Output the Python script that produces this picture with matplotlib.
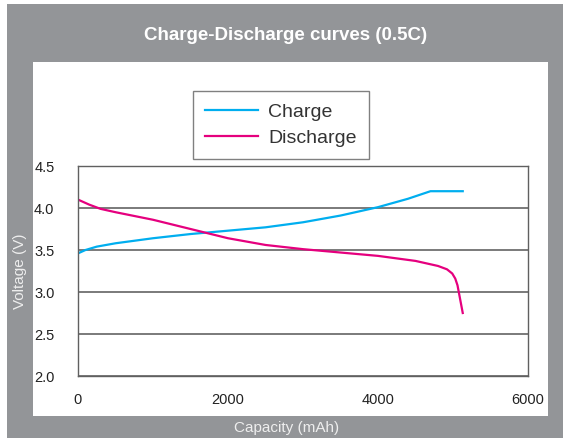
import numpy as np
import matplotlib.pyplot as plt
from matplotlib.patches import Rectangle

plt.rcParams['font.family'] = ['Liberation Sans', 'DejaVu Sans']

# charge curve (mAh, V)
charge_cap = [0, 100, 250, 500, 750, 1000, 1500, 2000, 2500, 3000, 3500, 4000, 4400, 4700, 5130]
charge_v = [3.46, 3.50, 3.54, 3.58, 3.61, 3.64, 3.69, 3.73, 3.77, 3.83, 3.91, 4.01, 4.11, 4.20, 4.20]

# discharge curve (mAh, V)
dis_cap = [0, 150, 300, 500, 1000, 1500, 2000, 2500, 3000, 3500, 4000, 4500, 4800, 4920, 4990, 5030, 5060, 5130]
dis_v = [4.10, 4.04, 3.99, 3.95, 3.86, 3.75, 3.64, 3.56, 3.51, 3.47, 3.43, 3.37, 3.31, 3.27, 3.22, 3.16, 3.08, 2.75]

W, H = 563, 438
fig = plt.figure(figsize=(W / 100, H / 100), dpi=100)
fig.patch.set_facecolor('white')

gray = '#939598'
fig.patches.append(Rectangle((7 / W, 0), (W - 7) / W, (H - 4) / H, transform=fig.transFigure,
                             facecolor=gray, edgecolor='none', zorder=-2))
fig.patches.append(Rectangle((33 / W, (H - 416) / H), (548 - 33) / W, (416 - 62) / H,
                             transform=fig.transFigure, facecolor='white', edgecolor='none', zorder=-1))

ax = fig.add_axes([78 / W, (H - 376) / H, (528 - 78) / W, (376 - 166) / H])
ax.set_facecolor('none')

ax.plot(charge_cap, charge_v, color='#00aeef', lw=1.6, label='Charge')
ax.plot(dis_cap, dis_v, color='#e5007e', lw=1.6, label='Discharge')

ax.set_xlim(0, 6000)
ax.set_ylim(2.0, 4.5)
ax.set_xticks([0, 2000, 4000, 6000])
ax.set_yticks([2.0, 2.5, 3.0, 3.5, 4.0, 4.5])
ax.set_yticklabels(['2.0', '2.5', '3.0', '3.5', '4.0', '4.5'])
ax.tick_params(length=0, labelsize=10.5, colors='#222222')
ax.tick_params(axis='x', pad=12)
ax.tick_params(axis='y', pad=17)
ax.grid(axis='y', color='#707070', lw=1.3)
for s in ax.spines.values():
    s.set_color('#606060')
    s.set_linewidth(1)

fig.text(286 / W, 1 - 35 / H, 'Charge-Discharge curves (0.5C)', color='white',
         fontsize=13.5, fontweight='bold', ha='center', va='center')
fig.text(287 / W, 1 - 428 / H, 'Capacity (mAh)', color='#eeeeee', fontsize=11,
         ha='center', va='center')
fig.text(20 / W, 1 - 271 / H, 'Voltage (V)', color='#eeeeee', fontsize=11,
         ha='center', va='center', rotation=90)

leg = fig.legend(loc='upper left', bbox_to_anchor=(193 / W, 1 - 91 / H), fontsize=14,
                 frameon=True, fancybox=False, handlelength=2.7, handletextpad=0.55,
                 borderpad=0.62, labelspacing=0.45, borderaxespad=0)
leg.get_frame().set_edgecolor('#606060')
leg.get_frame().set_linewidth(1)
for t in leg.get_texts():
    t.set_color('#333333')

fig.savefig('out.png', dpi=100)
